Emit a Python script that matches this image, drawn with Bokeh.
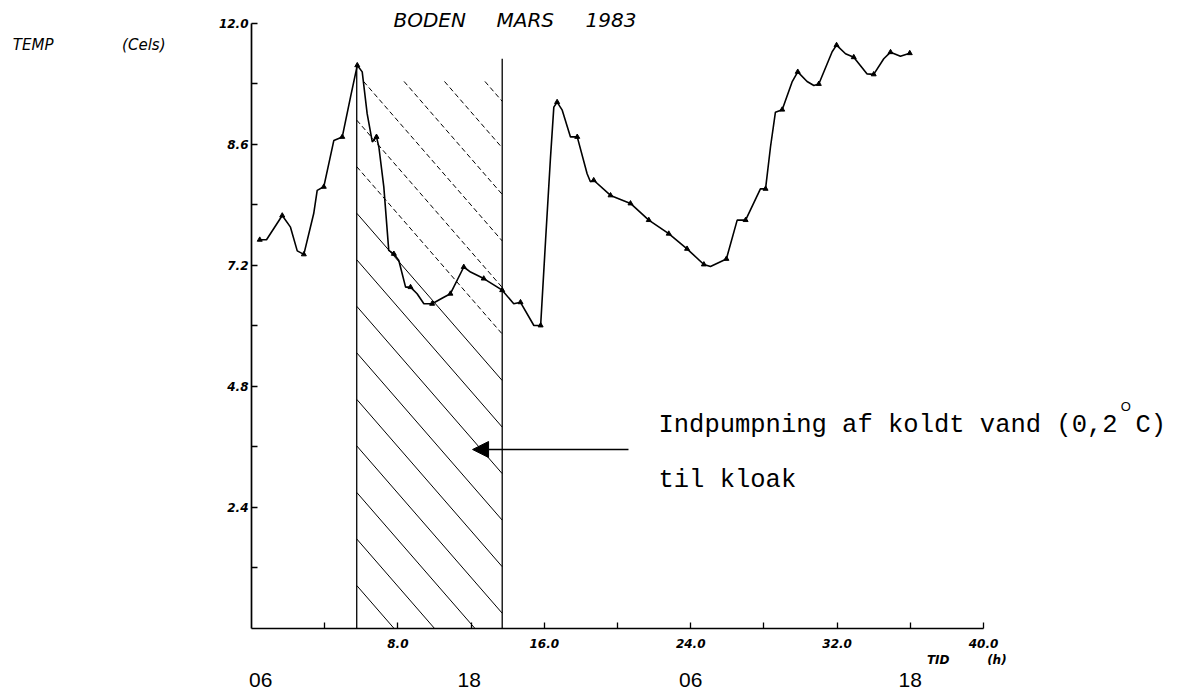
from bokeh.plotting import figure
from bokeh.models import (Range1d, FixedTicker, Label, Arrow, NormalHead, ColumnDataSource,
                          LinearAxis)
from bokeh.embed import file_html
from bokeh.resources import INLINE

# ---------------- data ----------------
HOURS = [0.45, 0.82, 1.68, 2.13, 2.5, 2.86, 3.4, 3.59, 3.95, 4.5, 4.96, 5.41, 5.78, 6.05, 6.32,
         6.6, 6.83, 6.96, 7.23, 7.5, 7.78, 8.05, 8.42, 8.69, 9.05, 9.42, 9.87, 10.51, 10.87, 11.6,
         11.97, 12.69, 13.7, 14.33, 14.7, 15.43, 15.8, 16.07, 16.34, 16.52, 16.7, 16.98, 17.43, 17.8,
         18.34, 18.52, 18.7, 19.62, 20.71, 21.71, 22.8, 23.8, 24.72, 25.08, 25.95, 26.54, 27.0,
         27.81, 28.09, 28.36, 28.63, 29.0, 29.54, 29.85, 30.36, 30.73, 31.0, 31.73, 31.97, 32.46,
         32.91, 33.64, 34.0, 34.55, 34.92, 35.46, 35.97]
TEMP = [7.71, 7.71, 8.19, 7.96, 7.49, 7.42, 8.23, 8.69, 8.76, 9.68, 9.75, 10.54, 11.17, 11.04, 10.21,
        9.65, 9.75, 9.55, 8.76, 7.5, 7.43, 7.30, 6.77, 6.77, 6.64, 6.44, 6.44, 6.57, 6.64, 7.17,
        7.07, 6.94, 6.71, 6.44, 6.47, 6.01, 6.01, 7.7, 9.35, 10.34, 10.44, 10.28, 9.75, 9.75,
        9.02, 8.86, 8.89, 8.59, 8.43, 8.10, 7.83, 7.53, 7.22, 7.18, 7.33, 8.10, 8.10,
        8.72, 8.72, 9.55, 10.24, 10.29, 10.84, 11.04, 10.85, 10.77, 10.8, 11.44, 11.57, 11.4,
        11.33, 11.0, 10.99, 11.3, 11.43, 11.35, 11.41]
MARKER_IDX = [0, 2, 5, 8, 10, 12, 16, 20, 23, 26, 28, 29, 31, 32, 34, 36, 40, 43, 46, 47, 48, 49,
              50, 51, 52, 54, 56, 58, 61, 63, 66, 68, 70, 72, 74, 76]

PUMP_START = 5.75      # h, start of cold-water pumping
PUMP_END = 13.7        # h, end of cold-water pumping
PUMP_TOPS = [11.17, 11.3]

X_MAX = 40.0
Y_MAX = 12.0
NB = "\u00a0"
X_TICKS = [4, 8, 12, 16, 20, 24, 28, 32, 36, 40]
X_TICK_LABELS = ["", "8.0", "", "16.0", "", "24.0", "", "32.0", "",
                 "40.0\nTID" + NB * 9 + "(h)" + NB * 8]
Y_TICKS = [1.2, 2.4, 3.6, 4.8, 6.0, 7.2, 8.4, 9.6, 10.8, 12.0]
Y_TICK_LABELS = ["", "2.4", "", "4.8", "", "7.2", "", "8.6", "", "12.0"]

CLOCK_POS = [0.5, 11.9, 24.0, 36.0]
CLOCK_LABELS = ["06", "18", "06", "18"]

UNIT_LABEL_Y = 11.57
TITLE_WORDS = ["BODEN", "MARS", "1983"]
NOTE_LINE1 = "Indpumpning af koldt vand (0,2"
NOTE_SUP = "O"
NOTE_END = "C)"
NOTE_LINE2 = "til kloak"

# ---------------- figure geometry ----------------
W, H = 1178, 693
FRAME_L, FRAME_B = 251, 628          # pixel position of the (0, 0) corner
PX_PER_H = 18.3                      # pixels per hour on the time axis
PX_PER_C = 50.42                     # pixels per degree on the temperature axis
x_end = (W - FRAME_L) / PX_PER_H
y_end = FRAME_B / PX_PER_C

p = figure(width=W, height=H, output_backend="svg", toolbar_location=None,
           x_range=Range1d(0, x_end), y_range=Range1d(0, y_end),
           min_border_left=FRAME_L, min_border_right=0, min_border_top=0,
           min_border_bottom=H - FRAME_B)
p.outline_line_color = None
p.grid.visible = False
p.background_fill_color = "white"
p.border_fill_color = "white"

for ax in (p.xaxis[0], p.yaxis[0]):
    ax.axis_line_color = "black"
    ax.axis_line_width = 1.7
    ax.major_tick_line_color = "black"
    ax.major_tick_line_width = 1.3
    ax.major_tick_in = 6
    ax.major_tick_out = 0
    ax.minor_tick_line_color = None
    ax.major_label_text_font = "DejaVu Sans"
    ax.major_label_text_font_style = "bold italic"
    ax.major_label_text_font_size = "12px"
    ax.major_label_text_color = "black"

p.xaxis.bounds = (0, X_MAX)
p.xaxis.ticker = FixedTicker(ticks=X_TICKS)
p.xaxis.major_label_overrides = {t: s for t, s in zip(X_TICKS, X_TICK_LABELS)}
p.xaxis.major_label_standoff = 8
p.yaxis.bounds = (0, Y_MAX)
p.yaxis.ticker = FixedTicker(ticks=Y_TICKS)
p.yaxis.major_label_overrides = {t: s for t, s in zip(Y_TICKS, Y_TICK_LABELS)}
p.yaxis.major_label_standoff = 3


def text_axis(ticks, labels, standoff, font, style, size):
    a = LinearAxis(ticker=FixedTicker(ticks=ticks),
                   major_label_overrides={t: s for t, s in zip(ticks, labels)},
                   axis_line_color=None, major_tick_line_color=None, minor_tick_line_color=None,
                   major_tick_in=0, major_tick_out=0, major_label_standoff=standoff,
                   major_label_text_font=font, major_label_text_font_style=style,
                   major_label_text_font_size=size, major_label_text_color="black")
    return a


# clock times below the time axis
p.add_layout(text_axis(CLOCK_POS, CLOCK_LABELS, 2, "Liberation Sans", "normal", "21px"), "below")
# unit label left of the temperature axis
p.add_layout(text_axis([UNIT_LABEL_Y], ["(Cels)"], 50, "DejaVu Sans", "italic", "15px"), "left")
p.add_layout(text_axis([UNIT_LABEL_Y], ["TEMP"], 66, "DejaVu Sans", "italic", "15px"), "left")

# pumping period: vertical bounds
p.segment(x0=[PUMP_START, PUMP_END], y0=[0, 0], x1=[PUMP_START, PUMP_END], y1=PUMP_TOPS,
          line_color="black", line_width=1.3)

# hatch lines inside the pumping period (derived from period bounds)
hatch_top = 10.85
k = 0.4175        # slope of hatch (temp units per hour)
step = 0.923      # vertical spacing
solid = dict(x0=[], y0=[], x1=[], y1=[])
dashed = dict(x0=[], y0=[], x1=[], y1=[])
c = 0.853
while c < hatch_top + k * (PUMP_END - PUMP_START):
    if c <= hatch_top:
        sx, sy = PUMP_START, c
    else:
        sx, sy = PUMP_START + (c - hatch_top) / k, hatch_top
    xz = PUMP_START + c / k
    if xz <= PUMP_END:
        ex, ey = xz, 0.0
    else:
        ex, ey = PUMP_END, c - k * (PUMP_END - PUMP_START)
    d = dashed if c > 9.0 else solid
    d["x0"].append(sx); d["y0"].append(sy); d["x1"].append(ex); d["y1"].append(ey)
    c += step
p.segment(source=ColumnDataSource(solid), x0="x0", y0="y0", x1="x1", y1="y1",
          line_color="black", line_width=1.0)
p.segment(source=ColumnDataSource(dashed), x0="x0", y0="y0", x1="x1", y1="y1",
          line_color="black", line_width=1.0, line_dash="5 3")

# temperature curve
src = ColumnDataSource(dict(x=HOURS, y=TEMP))
p.line("x", "y", source=src, line_color="black", line_width=1.6)
p.scatter([HOURS[i] for i in MARKER_IDX], [TEMP[i] for i in MARKER_IDX], marker="triangle",
          size=5, fill_color="black", line_color="black")

# arrow
p.add_layout(Arrow(end=NormalHead(size=16, fill_color="black", line_color="black"),
                   x_start=20.6, y_start=3.55, x_end=12.08, y_end=3.55,
                   line_color="black", line_width=1.5))


# ---------------- texts inside the frame ----------------
def lab(x, y, text, size, font="DejaVu Sans", style="italic", align="left", baseline="middle"):
    p.add_layout(Label(x=x, y=y, text=text, text_font=font, text_font_style=style,
                       text_font_size=size, text_align=align, text_baseline=baseline,
                       text_color="black"))


for xw, word in zip([7.76, 13.39, 18.25], TITLE_WORDS):
    lab(xw, 12.06, word, "20px")

note_font = "Liberation Mono"
lab(22.24, 4.03, NOTE_LINE1, "25.5px", font=note_font, style="normal", baseline="alphabetic")
lab(47.5, 4.4, NOTE_SUP, "13px", font="Liberation Sans", style="normal", baseline="alphabetic")
lab(48.3, 4.03, NOTE_END, "25.5px", font=note_font, style="normal", baseline="alphabetic")
lab(22.24, 2.94, NOTE_LINE2, "25.5px", font=note_font, style="normal", baseline="alphabetic")

open("out.html", "w").write(file_html(p, INLINE))
